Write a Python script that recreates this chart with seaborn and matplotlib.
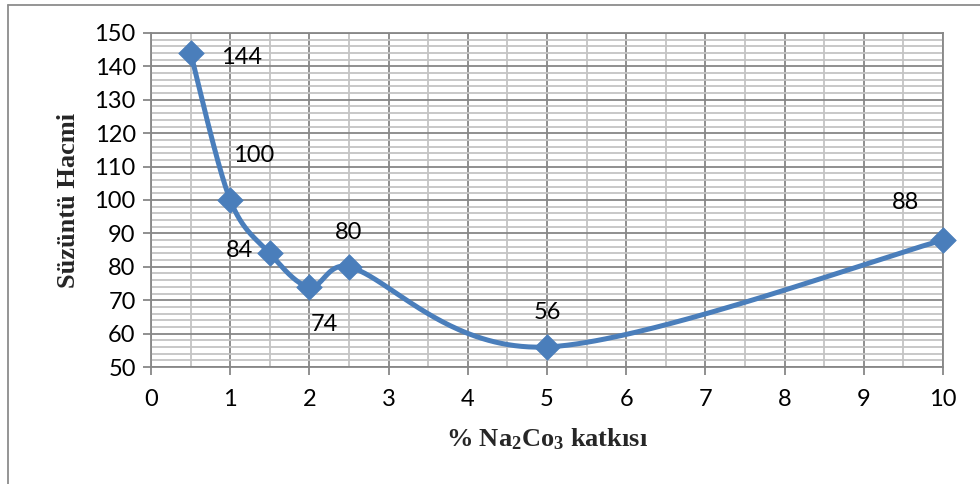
import numpy as np
import pandas as pd
import matplotlib
matplotlib.use("Agg")
import matplotlib.pyplot as plt
from matplotlib.ticker import MultipleLocator
from matplotlib.lines import Line2D
import seaborn as sns

# Additive percentage and filtrate volume
katki = [0.5, 1, 1.5, 2, 2.5, 5, 10]
hacim = [144, 100, 84, 74, 80, 56, 88]
x_ticks = [0, 1, 2, 3, 4, 5, 6, 7, 8, 9, 10]
y_ticks = [50, 60, 70, 80, 90, 100, 110, 120, 130, 140, 150]

# label offsets in points (dx, dy) for each value label
label_offsets = [(37, -3), (17, 32), (-22, 2), (11, -27), (0, 25), (0, 25), (-27, 27)]

sns.set_theme(style="white")
plt.rcParams["font.family"] = ["Lato", "DejaVu Sans"]
plt.rcParams["mathtext.default"] = "regular"

BLUE = "#4A7EBB"


def smooth_curve(ax, xs, ys, n=80, k=0.5):
    """Bezier smoothing in display space: Catmull-Rom control points (1/6 of the
    neighbour chord), limited to a fraction k of the segment length."""
    disp = ax.transData.transform(np.column_stack([xs, ys]).astype(float))
    m = len(disp)
    out = []
    for i in range(m - 1):
        p0 = disp[i - 1] if i > 0 else disp[i]
        p1 = disp[i]
        p2 = disp[i + 1]
        p3 = disp[i + 2] if i + 2 < m else disp[i + 1]
        seg_len = np.hypot(*(p2 - p1))
        t1 = (p2 - p0) / 6.0
        t2 = (p3 - p1) / 6.0
        for tv in (t1, t2):
            ln = np.hypot(*tv)
            if ln > k * seg_len:
                tv *= k * seg_len / ln
        c1 = p1 + t1
        c2 = p2 - t2
        t = np.linspace(0, 1, n)[:, None]
        seg = ((1 - t) ** 3) * p1 + 3 * ((1 - t) ** 2) * t * c1 + 3 * (1 - t) * t ** 2 * c2 + t ** 3 * p2
        out.append(seg if i == 0 else seg[1:])
    data = ax.transData.inverted().transform(np.vstack(out))
    return data[:, 0], data[:, 1]


fig = plt.figure(figsize=(9.8, 4.84), dpi=100)
ax = fig.add_axes([151 / 980, 1 - 367 / 484, (943 - 151) / 980, (367 - 33) / 484])
ax.set_xlim(0, 10)
ax.set_ylim(50, 150)

# outer chart frame
fig.add_artist(Line2D([8 / 980, 1.0], [1 - 4.5 / 484, 1 - 4.5 / 484], transform=fig.transFigure,
                      color="#8C8C8C", lw=1.3))
fig.add_artist(Line2D([8 / 980, 8 / 980], [1 - 4.5 / 484, 0], transform=fig.transFigure,
                      color="#8C8C8C", lw=1.3))

sx, sy = smooth_curve(ax, katki, hacim)
curve = pd.DataFrame({"x": sx, "y": sy})
points = pd.DataFrame({"katki": katki, "hacim": hacim})

sns.lineplot(data=curve, x="x", y="y", sort=False, ax=ax, color=BLUE, lw=3.6,
             estimator=None, zorder=4, solid_capstyle="round")
sns.scatterplot(data=points, x="katki", y="hacim", ax=ax, marker="D", s=170,
                color=BLUE, edgecolor=BLUE, linewidth=0.5, zorder=5, clip_on=False)

for xv, yv, (dx, dy) in zip(katki, hacim, label_offsets):
    ax.annotate(str(yv), (xv, yv), xytext=(dx, dy), textcoords="offset points",
                ha="center", va="center", fontsize=17, color="black", zorder=6)

ax.set_xlim(0, 10)
ax.set_ylim(50, 150)
ax.set_xticks(x_ticks)
ax.set_yticks(y_ticks)
ax.set_xticklabels([str(v) for v in x_ticks])
ax.set_yticklabels([str(v) for v in y_ticks])
ax.xaxis.set_minor_locator(MultipleLocator(0.5))
ax.yaxis.set_minor_locator(MultipleLocator(2))

ax.grid(which="major", color="#878787", lw=1.3, zorder=1)
ax.grid(which="minor", color="#C4C4C4", lw=1.3, zorder=0)
ax.set_axisbelow(True)

for side in ["left", "bottom", "right", "top"]:
    ax.spines[side].set_visible(True)
    ax.spines[side].set_color("#878787")
    ax.spines[side].set_linewidth(1.3)

ax.tick_params(axis="both", which="major", direction="out", length=6, width=1.3,
               color="#878787", labelsize=17, labelcolor="black", pad=5,
               bottom=True, left=True)
ax.tick_params(axis="x", which="major", pad=10)
ax.tick_params(which="minor", length=0)

ax.set_xlabel("% Na$_2$Co$_3$ katkısı", fontsize=19, fontweight="bold",
              family="Liberation Serif", labelpad=12)
ax.set_ylabel("Süzüntü Hacmi", fontsize=19, fontweight="bold",
              family="Liberation Serif", labelpad=10)

fig.savefig("out.png", dpi=100, facecolor="white")
